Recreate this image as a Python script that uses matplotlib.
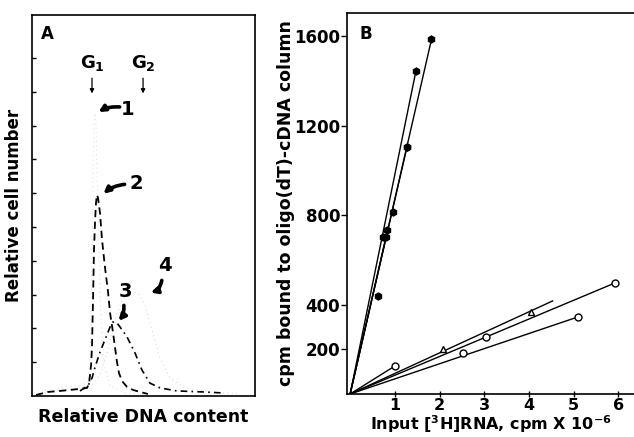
import numpy as np
import matplotlib
matplotlib.use("Agg")
import matplotlib.pyplot as plt

plt.rcParams['font.family'] = ['DejaVu Sans']
plt.rcParams['font.weight'] = 'bold'
plt.rcParams['axes.labelweight'] = 'bold'
plt.rcParams['mathtext.default'] = 'bf'

# --- panel A: flow cytometry profiles (channel, relative cells) ---
c1_x = [1.8, 8.1, 14.8, 21.5, 25.1, 26.0, 26.5, 26.9, 27.4, 27.8, 28.3, 28.7, 29.1, 30.0, 30.9, 32.3, 35.0, 41.7, 52.9]
c1_y = [0.03, 0.15, 0.27, 0.30, 0.41, 1.07, 2.25, 4.32, 6.69, 8.22, 8.37, 8.02, 6.69, 4.32, 2.25, 0.92, 0.30, 0.09, 0.03]

c2_x = [1.8, 7.2, 12.6, 17.0, 21.5, 24.7, 25.6, 26.5, 26.9, 27.4, 27.8, 28.3, 28.7, 29.1, 29.6, 30.5,
        31.4, 32.7, 34.1, 35.0, 36.3, 37.2, 38.1, 39.0, 40.4, 42.6, 45.3, 48.4, 52.0]
c2_y = [0.03, 0.12, 0.15, 0.18, 0.21, 0.24, 0.38, 0.92, 1.45, 2.96, 4.32, 5.21, 5.71, 5.95, 5.86, 5.41,
        4.62, 3.82, 3.08, 2.46, 1.89, 1.45, 1.01, 0.68, 0.44, 0.27, 0.18, 0.12, 0.06]

c3_x = [21.5, 25.1, 26.9, 28.3, 30.5, 32.7, 35.0, 36.3, 38.1, 39.5, 42.6, 46.2, 49.3, 52.9, 57.4, 65.0, 76.7, 85.7]
c3_y = [0.15, 0.30, 0.53, 0.86, 1.30, 1.66, 2.04, 2.19, 2.16, 2.04, 1.75, 1.27, 0.77, 0.38, 0.24, 0.15, 0.12, 0.09]

c4_x = [3.6, 12.6, 21.5, 26.9, 30.5, 34.1, 37.2, 40.4, 43.9, 47.5, 50.7, 53.8, 57.4, 61.9, 68.6, 79.8, 93.3]
c4_y = [0.03, 0.18, 0.24, 0.33, 0.62, 1.36, 2.25, 2.84, 3.08, 3.05, 2.69, 1.95, 1.12, 0.53, 0.24, 0.12, 0.06]

# --- panel B: input RNA (cpm x 10^-6) vs cpm bound ---
f1_x, f1_y = [0.74, 1.47], [702, 1442]
f2_x, f2_y = [0.96, 1.27, 1.82], [813, 1103, 1585]
f3_x, f3_y = [0.82, 1.27], [733, 1103]
f4_x, f4_y = [0.63, 0.80], [438, 700]

o1_x, o1_y = [1.0], [125]
o2_x, o2_y = [2.07, 4.04], [200, 366]
o2_end = (4.53, 416)
o3_x, o3_y = [3.04, 5.92], [255, 496]
o4_x, o4_y = [2.52, 5.09], [183, 344]

fig = plt.figure(figsize=(6.34, 4.37), dpi=100)

# ---------------- A ----------------
axA = fig.add_axes([32/634, 41/437, 223/634, 381/437])
axA.set_xlim(0, 100)
axA.set_ylim(0, 11.27)
axA.plot(c1_x, c1_y, color='#e2e2e2', lw=0.8, ls=(0, (1, 3)))
axA.plot(c4_x, c4_y, color='#dadada', lw=0.8, ls=(0, (1, 3)))
axA.plot(c2_x, c2_y, color='black', lw=1.3, ls=(0, (4, 2.5)))
axA.plot(c3_x, c3_y, color='black', lw=1.2, ls=(0, (4, 2.5, 1, 2.5)))
for s in axA.spines.values():
    s.set_linewidth(1.2)
axA.set_xticks([])
axA.set_yticks(range(1, 11))
axA.set_yticklabels([])
axA.tick_params(axis='y', direction='in', length=3, width=1)
axA.set_xlabel('Relative DNA content', fontsize=12.5, labelpad=9)
axA.set_ylabel('Relative cell number', fontsize=12, labelpad=3)
axA.text(0.04, 0.975, 'A', transform=axA.transAxes, fontsize=12, va='top', ha='left')

# G1 / G2 markers
for gx, lab in [(26.9, 'G$_1$'), (49.8, 'G$_2$')]:
    axA.text(gx, 9.85, lab, fontsize=13, ha='center', va='center')
    axA.annotate('', xy=(gx, 8.95), xytext=(gx, 9.4),
                 arrowprops=dict(arrowstyle='-|>', lw=0.9, color='black',
                                 mutation_scale=6, shrinkA=0, shrinkB=0))

# numbered curve labels with thick arrows
labels = [('1', (43.0, 8.46), (39.3, 8.55), (29.8, 8.40), 0.15),
          ('2', (46.6, 6.30), (41.5, 6.26), (32.0, 5.98), 0.15),
          ('3', (41.7, 3.10), (41.2, 2.68), (38.8, 2.22), -0.2),
          ('4', (59.4, 3.85), (58.2, 3.42), (53.2, 3.06), -0.3)]
for lab, tpos, tail, tip, rad in labels:
    axA.text(tpos[0], tpos[1], lab, fontsize=14, ha='center', va='center')
    axA.annotate('', xy=tip, xytext=tail,
                 arrowprops=dict(arrowstyle='-|>', lw=2.6, color='black',
                                 mutation_scale=9, shrinkA=0, shrinkB=0,
                                 connectionstyle=f'arc3,rad={rad}'))

# ---------------- B ----------------
axB = fig.add_axes([347/634, 43/437, 287/634, 381/437])
axB.set_xlim(-0.07, 6.35)
axB.set_ylim(0, 1703)

def ray(ax, xs, ys, marker, filled, end=None):
    ex, ey = end if end else (xs[-1], ys[-1])
    ax.plot([0, ex], [0, ey], color='black', lw=1.0)
    ax.plot(xs, ys, ls='none', marker=marker, ms=5,
            mfc='black' if filled else 'white', mec='black', mew=1.0)

ray(axB, f1_x, f1_y, 'h', True)
ray(axB, f2_x, f2_y, 'h', True)
ray(axB, f3_x, f3_y, 'h', True)
ray(axB, f4_x, f4_y, 'h', True)
ray(axB, o1_x, o1_y, 'o', False)
ray(axB, o2_x, o2_y, '^', False, end=o2_end)
ray(axB, o3_x, o3_y, 'o', False)
ray(axB, o4_x, o4_y, 'o', False)

axB.spines['right'].set_visible(False)
for s in ['left', 'bottom', 'top']:
    axB.spines[s].set_linewidth(1.2)
axB.set_yticks([200, 400, 800, 1200, 1600])
axB.set_xticks(range(1, 7))
axB.tick_params(axis='y', direction='out', length=4, width=1, labelsize=12, pad=1)
axB.tick_params(axis='x', direction='inout', length=4, width=1, labelsize=11.5, pad=1)
axB.set_xlabel('Input [$^3$H]RNA, cpm X 10$^{-6}$', fontsize=11.5, labelpad=0)
axB.set_ylabel('cpm bound to oligo(dT)-cDNA column', fontsize=12.5, labelpad=-1)
axB.text(0.045, 0.968, 'B', transform=axB.transAxes, fontsize=12, va='top', ha='left')

fig.savefig('out.png', dpi=100)
